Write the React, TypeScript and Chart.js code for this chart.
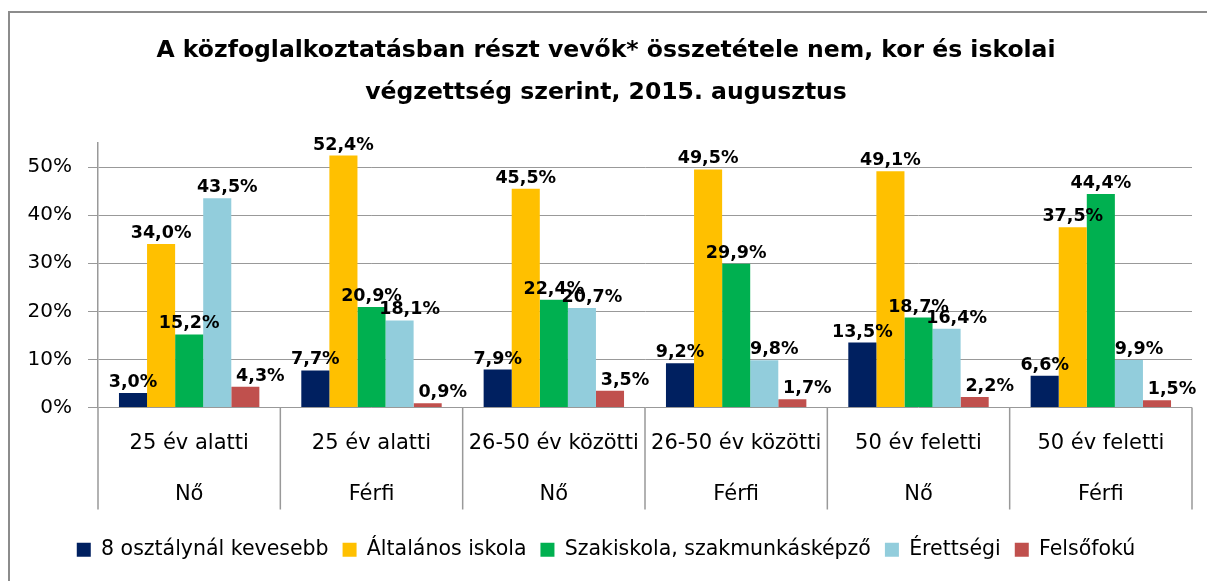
import React, { useEffect, useRef } from "react";
import { Chart, registerables } from "chart.js";

Chart.register(...registerables);

const ageGroups = ["25 év alatti", "25 év alatti", "26-50 év közötti", "26-50 év közötti", "50 év feletti", "50 év feletti"];
const genders = ["Nő", "Férfi", "Nő", "Férfi", "Nő", "Férfi"];

const seriesNames = ["8 osztálynál kevesebb", "Általános iskola", "Szakiskola, szakmunkásképző", "Érettségi", "Felsőfokú"];
const below8 = [3.0, 7.7, 7.9, 9.2, 13.5, 6.6];
const elementary = [34.0, 52.4, 45.5, 49.5, 49.1, 37.5];
const vocational = [15.2, 20.9, 22.4, 29.9, 18.7, 44.4];
const secondary = [43.5, 18.1, 20.7, 9.8, 16.4, 9.9];
const higher = [4.3, 0.9, 3.5, 1.7, 2.2, 1.5];

const yTicks = [0, 10, 20, 30, 40, 50];

const colors = ["#002060", "#FFC000", "#00B050", "#92CDDC", "#C0504D"];
const labelShift = [0, 0, 0, 10, 15];

const FONT = "'DejaVu Sans', sans-serif";

const fmt = (v: number) => v.toFixed(1).replace(".", ",") + "%";

const dataLabelPlugin = {
  id: "dataLabels",
  afterDatasetsDraw(chart: any) {
    const ctx = chart.ctx;
    ctx.save();
    ctx.font = `bold 17.5px ${FONT}`;
    ctx.fillStyle = "#000";
    ctx.textAlign = "center";
    ctx.textBaseline = "alphabetic";
    chart.data.datasets.forEach((ds: any, di: number) => {
      const meta = chart.getDatasetMeta(di);
      meta.data.forEach((el: any, i: number) => {
        ctx.fillText(fmt(ds.data[i]), el.x + labelShift[di], el.y - 6);
      });
    });
    ctx.restore();
  },
};

const separatorPlugin = {
  id: "separators",
  afterDraw(chart: any) {
    const x = chart.scales.x;
    const ctx = chart.ctx;
    const n = chart.data.labels.length;
    const step = (x.right - x.left) / n;
    const top = chart.chartArea.bottom;
    ctx.save();
    ctx.strokeStyle = "#999999";
    ctx.lineWidth = 1.5;
    for (let i = 0; i <= n; i++) {
      const px = x.left + i * step;
      ctx.beginPath();
      ctx.moveTo(px, top);
      ctx.lineTo(px, top + 102);
      ctx.stroke();
    }
    ctx.restore();
  },
};

export default function App() {
  const ref = useRef<HTMLCanvasElement | null>(null);

  useEffect(() => {
    if (!ref.current) return;
    const labels = ageGroups.map((a, i) => [a, genders[i]]);
    const values = [below8, elementary, vocational, secondary, higher];
    const chart = new Chart(ref.current, {
      type: "bar",
      data: {
        labels,
        datasets: values.map((d, i) => ({
          label: seriesNames[i],
          data: d,
          backgroundColor: colors[i],
          borderWidth: 0,
          categoryPercentage: 0.77,
          barPercentage: 1.0,
        })),
      },
      options: {
        responsive: false,
        animation: false,
        layout: { padding: { left: 10, right: 23, top: 0, bottom: 11 } },
        plugins: {
          title: {
            display: true,
            text: [
              "A közfoglalkoztatásban részt vevők* összetétele nem, kor és iskolai",
              "végzettség szerint, 2015. augusztus",
            ],
            color: "#000",
            font: { family: FONT, size: 23.5, weight: "bold", lineHeight: "42px" },
            padding: { top: 17, bottom: 29 },
          },
          legend: {
            position: "bottom",
            labels: {
              color: "#000",
              font: { family: FONT, size: 20.5 },
              boxWidth: 14,
              boxHeight: 14,
              padding: 14,
            },
          },
          tooltip: { enabled: false },
        },
        scales: {
          x: {
            grid: { display: false },
            border: { display: false },
            afterFit: (s: any) => {
              s.height += 2;
            },
            ticks: {
              color: "#000",
              font: { family: FONT, size: 21, lineHeight: "51px" },
              padding: 3,
              autoSkip: false,
              maxRotation: 0,
            },
          },
          y: {
            min: 0,
            max: 55,
            afterBuildTicks: (s: any) => {
              s.ticks = yTicks.map((v) => ({ value: v }));
            },
            afterFit: (s: any) => {
              s.width = 78;
            },
            grid: { color: "#999999", lineWidth: 1, tickLength: 10 },
            border: { color: "#999999", width: 1.5 },
            ticks: {
              color: "#000",
              font: { family: FONT, size: 20 },
              padding: 16,
              callback: (v: any) => v + "%",
            },
          },
        },
      },
      plugins: [dataLabelPlugin, separatorPlugin],
    });
    return () => chart.destroy();
  }, []);

  return (
    <div
      style={{
        marginTop: 3,
        width: 1205,
        height: 568,
        borderTop: "2px solid #8c8c8c",
        borderLeft: "2px solid #8c8c8c",
        overflow: "hidden",
        background: "#fff",
      }}
    >
      <canvas ref={ref} width={1205} height={568} style={{ display: "block" }} />
    </div>
  );
}
